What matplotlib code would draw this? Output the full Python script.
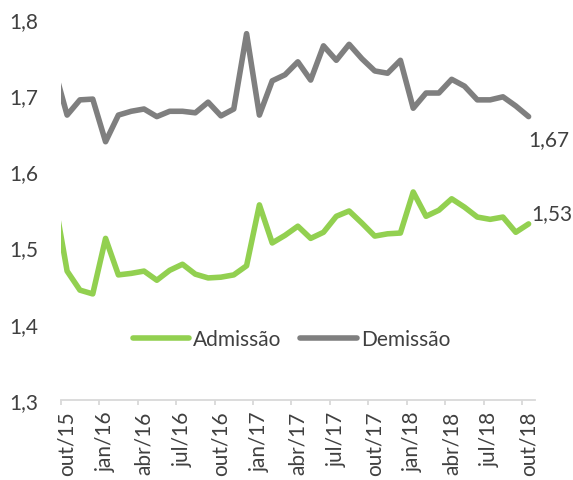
import matplotlib
matplotlib.use("Agg")
import matplotlib.pyplot as plt
import numpy as np

# Monthly series, set/15 (partially visible at the left edge) to out/18
months = ["set/15", "out/15", "nov/15", "dez/15", "jan/16", "fev/16", "mar/16", "abr/16", "mai/16",
          "jun/16", "jul/16", "ago/16", "set/16", "out/16", "nov/16", "dez/16", "jan/17", "fev/17",
          "mar/17", "abr/17", "mai/17", "jun/17", "jul/17", "ago/17", "set/17", "out/17", "nov/17",
          "dez/17", "jan/18", "fev/18", "mar/18", "abr/18", "mai/18", "jun/18", "jul/18", "ago/18",
          "set/18", "out/18"]

admissao = [1.565, 1.469, 1.444, 1.439, 1.512, 1.464, 1.466, 1.469, 1.457, 1.470,
            1.478, 1.465, 1.460, 1.461, 1.464, 1.476, 1.556, 1.506, 1.516, 1.528,
            1.512, 1.520, 1.541, 1.548, 1.532, 1.515, 1.518, 1.519, 1.573, 1.541,
            1.549, 1.564, 1.553, 1.540, 1.537, 1.540, 1.520, 1.531]

demissao = [1.735, 1.674, 1.694, 1.695, 1.639, 1.674, 1.679, 1.682, 1.672, 1.679,
            1.679, 1.677, 1.691, 1.673, 1.682, 1.781, 1.674, 1.719, 1.727, 1.744,
            1.720, 1.765, 1.746, 1.767, 1.748, 1.732, 1.729, 1.746, 1.683, 1.703,
            1.703, 1.721, 1.712, 1.694, 1.694, 1.698, 1.686, 1.672]

tick_labels = ["out/15", "jan/16", "abr/16", "jul/16", "out/16", "jan/17", "abr/17",
               "jul/17", "out/17", "jan/18", "abr/18", "jul/18", "out/18"]

y_ticks = [1.3, 1.4, 1.5, 1.6, 1.7, 1.8]
y_labels = ["1,3", "1,4", "1,5", "1,6", "1,7", "1,8"]

end_labels = ["1,53", "1,67"]

GREEN = "#92D050"
GRAY = "#7F7F7F"
TEXT = "#404040"
AXIS = "#D9D9D9"

plt.rcParams['font.family'] = ['Lato', 'DejaVu Sans']

fig = plt.figure(figsize=(5.73, 4.81), dpi=100)
ax = fig.add_axes([60.7 / 573, 1 - 400.7 / 481, (535 - 60.7) / 573, (400.7 - 20.2) / 481])

x = np.arange(len(months)) - 1  # out/15 at 0

la, = ax.plot(x, admissao, color=GREEN, lw=4.0, solid_joinstyle='round', solid_capstyle='round',
              label="Admissão")
ld, = ax.plot(x, demissao, color=GRAY, lw=4.0, solid_joinstyle='round', solid_capstyle='round',
              label="Demissão")

ax.set_xlim(-0.5, 36.5)
ax.set_ylim(1.3, 1.8)

for s in ["left", "right", "top"]:
    ax.spines[s].set_visible(False)
ax.spines["bottom"].set_color(AXIS)
ax.spines["bottom"].set_linewidth(1.3)

# tick marks at the category boundaries, labels at category centres
label_pos = np.arange(0, 37, 3)
ax.set_xticks(label_pos - 0.5)
ax.set_xticklabels([])
ax.tick_params(axis='x', which='major', length=3.8, width=1.3, color=AXIS)
ax.set_xticks(label_pos, minor=True)
ax.set_xticklabels(tick_labels, minor=True, rotation=90, fontsize=15, color=TEXT)
ax.tick_params(axis='x', which='minor', length=0, pad=8)

ax.set_yticks(y_ticks)
ax.set_yticklabels(y_labels, fontsize=15, color=TEXT)
ax.tick_params(axis='y', length=0, pad=16)

# end-of-line labels
ax.annotate(end_labels[0], xy=(x[-1], admissao[-1]), xytext=(2, 8), textcoords='offset points',
            fontsize=15, color=TEXT, ha='left', va='center')
ax.annotate(end_labels[1], xy=(x[-1], demissao[-1]), xytext=(0, -16), textcoords='offset points',
            fontsize=15, color=TEXT, ha='left', va='center')

leg = ax.legend(handles=[la, ld], loc='center', bbox_to_anchor=(291.5 / 573, 1 - 340 / 481),
                bbox_transform=fig.transFigure, ncol=2, frameon=False, fontsize=15,
                handlelength=2.7, handletextpad=0.2, columnspacing=0.9, labelcolor=TEXT)
for h in leg.get_lines():
    h.set_solid_capstyle('round')

fig.savefig("out.png", dpi=100)
